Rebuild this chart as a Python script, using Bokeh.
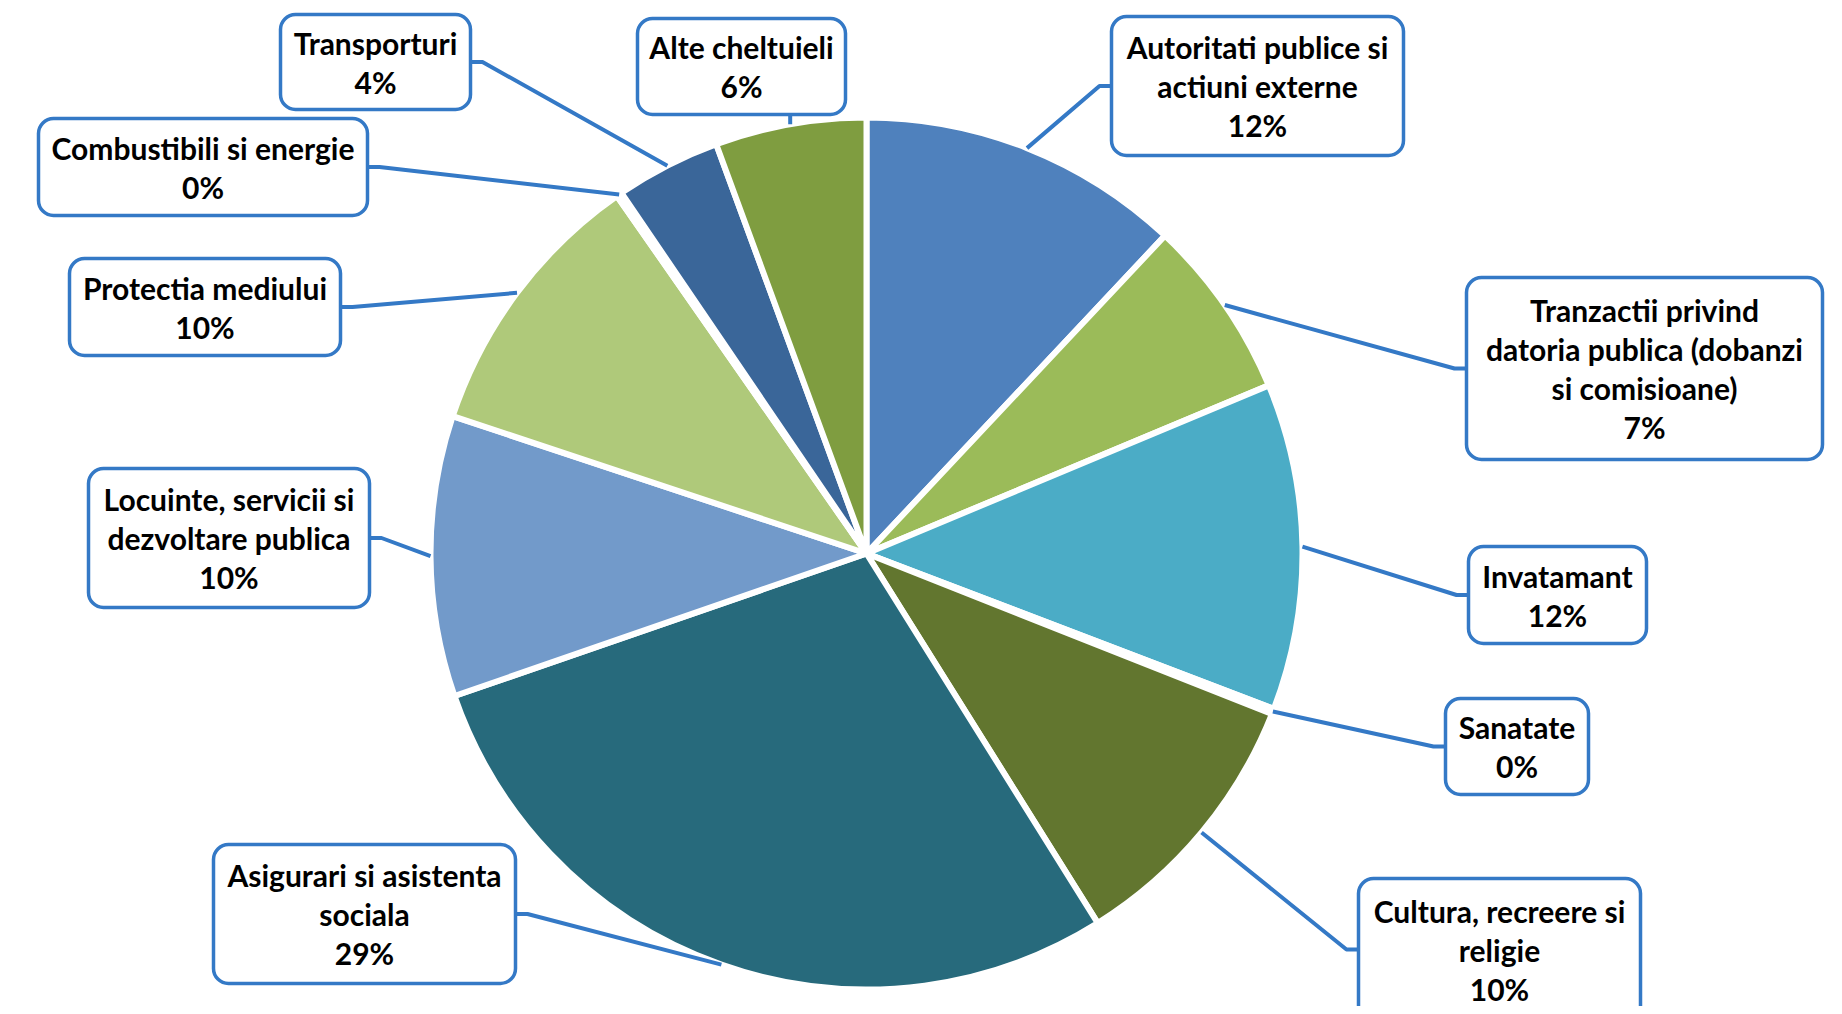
import math
from bokeh.plotting import figure
from bokeh.models import ColumnDataSource, Range1d
from bokeh.core.properties import value
from bokeh.embed import file_html
from bokeh.resources import INLINE

# ---------------- data ----------------
categories = [
    "Autoritati publice si actiuni externe",
    "Tranzactii privind datoria publica (dobanzi si comisioane)",
    "Invatamant",
    "Sanatate",
    "Cultura, recreere si religie",
    "Asigurari si asistenta sociala",
    "Locuinte, servicii si dezvoltare publica",
    "Protectia mediului",
    "Combustibili si energie",
    "Transporturi",
    "Alte cheltuieli",
]
shares = [12.0, 6.7, 12.1, 0.2, 10.1, 28.6, 10.4, 10.2, 0.2, 3.9, 5.6]
label_lines = [
    ["Autoritati publice si", "actiuni externe"],
    ["Tranzactii privind", "datoria publica (dobanzi", "si comisioane)"],
    ["Invatamant"],
    ["Sanatate"],
    ["Cultura, recreere si", "religie"],
    ["Asigurari si asistenta", "sociala"],
    ["Locuinte, servicii si", "dezvoltare publica"],
    ["Protectia mediului"],
    ["Combustibili si energie"],
    ["Transporturi"],
    ["Alte cheltuieli"],
]
colors = ["#4F81BD", "#9BBB59", "#4BACC6", "#2C4D75", "#62762F", "#276A7C",
          "#729ACA", "#AFC97A", "#6FBDD1", "#3A6699", "#7F9D40"]

# ---------------- layout (page pixels, y downward) ----------------
W, H = 1826, 1006
PAGE_H = 1014
CX, CY, R = 866, 553, 436
# label boxes: left, right, top, bottom, anchor side
boxes = [
    (1111, 1403, 16, 155, "L"),
    (1466, 1822, 277, 459, "L"),
    (1468, 1646, 546, 643, "L"),
    (1445, 1588, 698, 794, "L"),
    (1358, 1640, 878, 1020, "L"),
    (213, 515, 844, 983, "R"),
    (88, 369, 468, 607, "R"),
    (69, 340, 258, 355, "R"),
    (38, 367, 118, 215, "R"),
    (280, 470, 14, 109, "R"),
    (637, 845, 18, 114, "B"),
]
STUB = 12
LINE_GAP = 39
BLUE = "#3479C6"
FONT = "Lato"
FONT_SIZE = "30px"


def yd(y):
    return PAGE_H - y


p = figure(width=W, height=H, output_backend="svg", toolbar_location=None,
           x_range=Range1d(0, W), y_range=Range1d(PAGE_H - H, PAGE_H),
           min_border=0, outline_line_color=None, background_fill_color="white",
           border_fill_color="white")
p.axis.visible = False
p.grid.visible = False

total = sum(shares)
starts, ends, mids = [], [], []
cum = 0.0
for v in shares:
    f0 = cum / total
    cum += v
    f1 = cum / total
    starts.append(math.pi / 2 - 2 * math.pi * f0)
    ends.append(math.pi / 2 - 2 * math.pi * f1)
    mids.append(math.pi / 2 - math.pi * (f0 + f1))

src = ColumnDataSource(dict(start=starts, end=ends, color=colors, cat=categories))
p.wedge(x=CX, y=yd(CY), radius=R, start_angle="start", end_angle="end",
        direction="clock", fill_color="color", line_color="white",
        line_width=6, source=src)

# leader lines
xs, ys = [], []
for m, (l, r, t, b, side) in zip(mids, boxes):
    px = CX + R * math.cos(m)
    py = yd(CY) + R * math.sin(m)
    ymid = yd((t + b) / 2)
    if side == "L":
        xs.append([px, l - STUB, l])
        ys.append([py, ymid, ymid])
    elif side == "R":
        xs.append([px, r + STUB, r])
        ys.append([py, ymid, ymid])
    else:
        xs.append([px, px])
        ys.append([py, yd(b)])
p.multi_line(xs=xs, ys=ys, line_color=BLUE, line_width=4)

# boxes
p.quad(left=[b[0] for b in boxes], right=[b[1] for b in boxes],
       top=[yd(b[2]) for b in boxes], bottom=[yd(b[3]) for b in boxes],
       fill_color="white", line_color=BLUE, line_width=3.5, border_radius=15)

# texts
tx, ty, tt = [], [], []
for v, lines, (l, r, t, b, side) in zip(shares, label_lines, boxes):
    all_lines = lines + [f"{round(v / total * 100)}%"]
    n = len(all_lines)
    xc = (l + r) / 2
    yc = yd((t + b) / 2)
    for i, s in enumerate(all_lines):
        tx.append(xc)
        ty.append(yc + ((n - 1) / 2 - i) * LINE_GAP)
        tt.append(s)
p.text(x=tx, y=ty, text=tt, text_align="center", text_baseline="middle",
       text_font=value(FONT), text_font_style="bold", text_font_size=FONT_SIZE,
       text_color="#000000")

open("out.html", "w").write(file_html(p, INLINE))
